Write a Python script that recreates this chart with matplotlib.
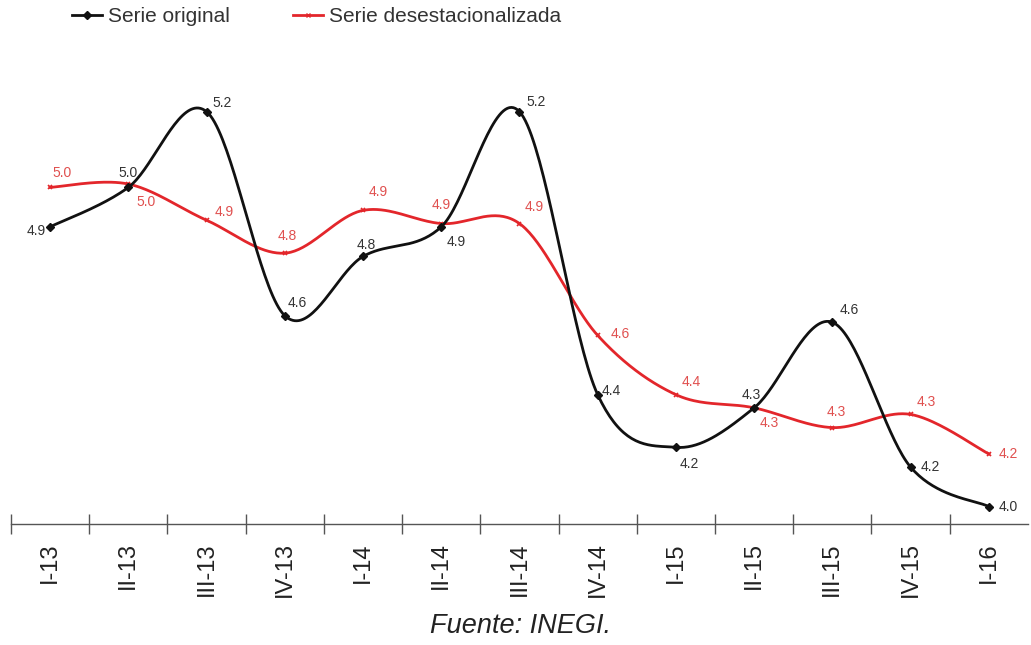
import numpy as np
import matplotlib
matplotlib.use('Agg')
import matplotlib.pyplot as plt

plt.rcParams['font.family'] = ['Liberation Sans', 'DejaVu Sans']

##############
### Datos ###
##############

trimestres = ['I-13', 'II-13', 'III-13', 'IV-13', 'I-14', 'II-14', 'III-14',
              'IV-14', 'I-15', 'II-15', 'III-15', 'IV-15', 'I-16']
serie_original = [4.89, 5.01, 5.24, 4.62, 4.80, 4.89, 5.24,
                  4.38, 4.22, 4.34, 4.60, 4.16, 4.04]
serie_desest = [5.01, 5.02, 4.91, 4.81, 4.94, 4.90, 4.90,
                4.56, 4.38, 4.34, 4.28, 4.32, 4.20]

# label offsets in points (dx, dy, ha)
off_original = [(-3, -3, 'right'), (0, 10, 'center'), (4, 6, 'left'), (2, 9, 'left'),
                (2, 8, 'center'), (4, -11, 'left'), (5, 7, 'left'), (3, 3, 'left'),
                (3, -12, 'left'), (-2, 9, 'center'), (5, 9, 'left'), (7, 0, 'left'),
                (7, 0, 'left')]
off_desest = [(2, 10, 'left'), (6, -13, 'left'), (6, 6, 'left'), (2, 12, 'center'),
              (4, 13, 'left'), (0, 13, 'center'), (4, 12, 'left'), (9, 1, 'left'),
              (4, 9, 'left'), (4, -11, 'left'), (3, 11, 'center'), (4, 9, 'left'),
              (7, 0, 'left')]

##################
### Suavizado ###
##################

def smooth(xs, ys, n=40):
    """Bezier smoothing, similar to spreadsheet 'smoothed line'"""
    p = np.column_stack([xs, ys]).astype(float)
    p_ext = np.vstack([p[0], p, p[-1]])
    out = []
    t = np.linspace(0, 1, n)[:, None]
    for i in range(len(p) - 1):
        p0, p1, p2, p3 = p_ext[i], p_ext[i + 1], p_ext[i + 2], p_ext[i + 3]
        b1 = p1 + (p2 - p0) / 6.0
        b2 = p2 - (p3 - p1) / 6.0
        seg = ((1 - t) ** 3) * p1 + 3 * ((1 - t) ** 2) * t * b1 + 3 * (1 - t) * t ** 2 * b2 + t ** 3 * p2
        out.append(seg if i == 0 else seg[1:])
    out = np.vstack(out)
    return out[:, 0], out[:, 1]

################
### Grafica ###
################

BLACK = '#111111'
RED = '#e3262b'

fig = plt.figure(figsize=(10.31, 6.45), dpi=100)
ax = fig.add_axes([0.0107, 0.1876, 0.9863, 0.7194])

x = np.arange(len(trimestres))

sx, sy = smooth(x, serie_original)
ax.plot(sx, sy, color=BLACK, lw=2.0, zorder=3)
ax.plot(x, serie_original, linestyle='none', marker='D', ms=4.5, color=BLACK, zorder=4)

sx, sy = smooth(x, serie_desest)
ax.plot(sx, sy, color=RED, lw=2.0, zorder=2)
ax.plot(x, serie_desest, linestyle='none', marker='x', ms=3.5, mew=1.2, color=RED, zorder=2)

for xi, v, (dx, dy, ha) in zip(x, serie_original, off_original):
    ax.annotate('{0:.1f}'.format(v), (xi, v), xytext=(dx, dy), textcoords='offset points',
                ha=ha, va='center', fontsize=10, color='#333333', zorder=5)
for xi, v, (dx, dy, ha) in zip(x, serie_desest, off_desest):
    ax.annotate('{0:.1f}'.format(v), (xi, v), xytext=(dx, dy), textcoords='offset points',
                ha=ha, va='center', fontsize=10, color='#e0504f', zorder=5)

ax.set_xlim(-0.5, len(trimestres) - 0.5)
ax.set_ylim(3.987, 5.397)

for s in ['top', 'right', 'left']:
    ax.spines[s].set_visible(False)
ax.spines['bottom'].set_color('#555555')
ax.spines['bottom'].set_linewidth(1.0)
ax.set_yticks([])

ax.set_xticks(x)
ax.set_xticklabels(trimestres, rotation=90, fontsize=17, color='#222222')
ax.tick_params(axis='x', which='major', length=0, pad=13)
ax.set_xticks(np.arange(-0.5, len(trimestres) - 0.5, 1.0), minor=True)
ax.tick_params(axis='x', which='minor', length=14, direction='inout', color='#555555', width=1.0)

# leyenda
ax.plot([], [], color=BLACK, lw=2.0, marker='D', ms=4, label='Serie original')
ax.plot([], [], color=RED, lw=2.0, marker='x', ms=3, label='Serie desestacionalizada')
leg = fig.legend(loc='upper left', bbox_to_anchor=(72 / 1031.0, 0.989), ncol=2, frameon=False,
                 fontsize=15, handlelength=1.45, handletextpad=0.3, columnspacing=3.0,
                 borderpad=0, borderaxespad=0)
for t in leg.get_texts():
    t.set_color('#333333')

fig.text(0.505, 1 - 626 / 645.0, 'Fuente: INEGI.', ha='center', va='center', fontsize=19.5,
         style='italic', color='#222222')

fig.savefig('out.png', dpi=100)
plt.close(fig)
